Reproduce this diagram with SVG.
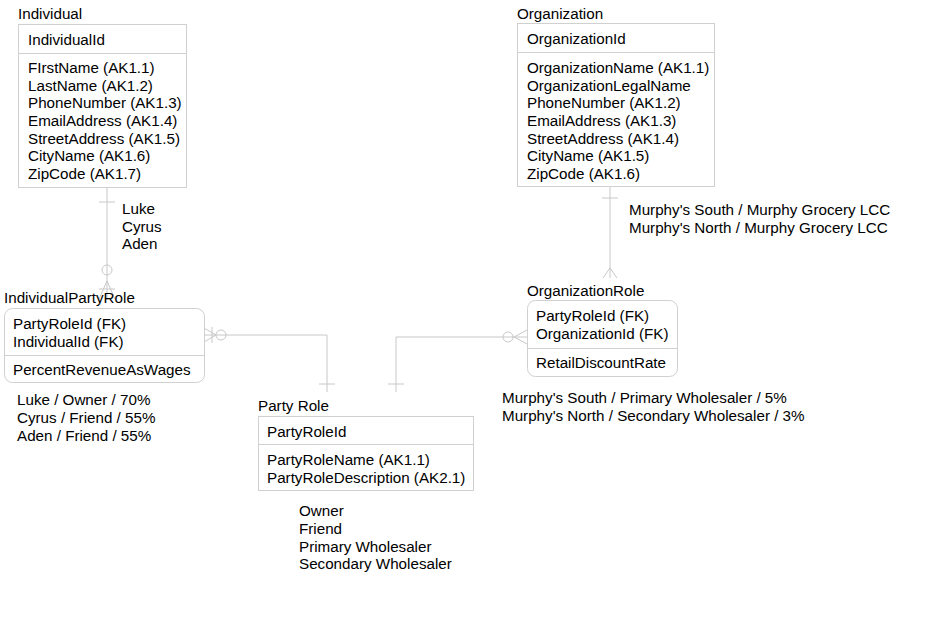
<svg xmlns="http://www.w3.org/2000/svg" width="925" height="620" viewBox="0 0 925 620">
<style>
text{font-family:"Liberation Sans",Arial,sans-serif;font-size:15.2px;fill:#000}
.box{fill:#fff;stroke:#d0d0d0;stroke-width:1}
.sep{stroke:#d0d0d0;stroke-width:1}
.ln{fill:none;stroke:#c8c8c8;stroke-width:1}
</style>
<rect width="925" height="620" fill="#fff"/>
<g id="connectors">
  <!-- Individual to IndividualPartyRole -->
  <path class="ln" d="M107,187 V300"/>
  <path class="ln" d="M99,202 H115"/>
  <circle class="ln" cx="107" cy="270" r="5"/>
  <path class="ln" d="M107,281 L99,299 M107,281 L115,299 M99,289 H115"/>
  <!-- IndividualPartyRole to Party Role -->
  <path class="ln" d="M204,335 H327 V392"/>
  <path class="ln" d="M319,384 H335"/>
  <circle class="ln" cx="221" cy="335" r="5"/>
  <path class="ln" d="M216,335 L204,328 M216,335 L204,342 M212,327 V343"/>
  <!-- Organization to OrganizationRole -->
  <path class="ln" d="M610,186 V278"/>
  <path class="ln" d="M602,198 H618"/>
  <path class="ln" d="M610,268 L603,278 M610,268 L617,278"/>
  <!-- OrganizationRole to Party Role -->
  <path class="ln" d="M527,337 H396 V392"/>
  <path class="ln" d="M388,384 H404"/>
  <circle class="ln" cx="508" cy="337" r="5"/>
  <path class="ln" d="M514,337 L527,330 M514,337 L527,344"/>
</g>
<g id="Individual">
  <text x="18" y="19">Individual</text>
  <rect class="box" x="18.5" y="24.5" width="168" height="163"/>
  <line class="sep" x1="18.5" y1="53.5" x2="186.5" y2="53.5"/>
  <text x="28" y="45">IndividualId</text>
  <text x="28" y="73">FIrstName (AK1.1)</text>
  <text x="28" y="91">LastName (AK1.2)</text>
  <text x="28" y="108">PhoneNumber (AK1.3)</text>
  <text x="28" y="126">EmailAddress (AK1.4)</text>
  <text x="28" y="144">StreetAddress (AK1.5)</text>
  <text x="28" y="161">CityName (AK1.6)</text>
  <text x="28" y="179">ZipCode (AK1.7)</text>
</g>
<g id="IndividualNotes">
  <text x="122" y="214">Luke</text>
  <text x="122" y="232">Cyrus</text>
  <text x="122" y="249">Aden</text>
</g>
<g id="IndividualPartyRole">
  <text x="4" y="303">IndividualPartyRole</text>
  <rect class="box" x="4.5" y="308.5" width="200" height="74" rx="8"/>
  <line class="sep" x1="4.5" y1="355.5" x2="204.5" y2="355.5"/>
  <text x="13" y="329">PartyRoleId (FK)</text>
  <text x="13" y="347">IndividualId (FK)</text>
  <text x="13" y="375">PercentRevenueAsWages</text>
</g>
<g id="IndividualPartyRoleNotes">
  <text x="17" y="405">Luke / Owner / 70%</text>
  <text x="17" y="423">Cyrus / Friend / 55%</text>
  <text x="17" y="441">Aden / Friend / 55%</text>
</g>
<g id="PartyRole">
  <text x="258" y="411">Party Role</text>
  <rect class="box" x="258.5" y="416.5" width="215" height="74"/>
  <line class="sep" x1="258.5" y1="444.5" x2="473.5" y2="444.5"/>
  <text x="267" y="437">PartyRoleId</text>
  <text x="267" y="465">PartyRoleName (AK1.1)</text>
  <text x="267" y="483">PartyRoleDescription (AK2.1)</text>
</g>
<g id="PartyRoleNotes">
  <text x="299" y="516">Owner</text>
  <text x="299" y="534">Friend</text>
  <text x="299" y="552">Primary Wholesaler</text>
  <text x="299" y="569">Secondary Wholesaler</text>
</g>
<g id="Organization">
  <text x="517" y="19">Organization</text>
  <rect class="box" x="517.5" y="23.5" width="197" height="163"/>
  <line class="sep" x1="517.5" y1="52.5" x2="714.5" y2="52.5"/>
  <text x="527" y="44">OrganizationId</text>
  <text x="527" y="73">OrganizationName (AK1.1)</text>
  <text x="527" y="91">OrganizationLegalName</text>
  <text x="527" y="108">PhoneNumber (AK1.2)</text>
  <text x="527" y="126">EmailAddress (AK1.3)</text>
  <text x="527" y="144">StreetAddress (AK1.4)</text>
  <text x="527" y="161">CityName (AK1.5)</text>
  <text x="527" y="179">ZipCode (AK1.6)</text>
</g>
<g id="OrganizationNotes">
  <text x="629" y="215">Murphy's South / Murphy Grocery LCC</text>
  <text x="629" y="233">Murphy's North / Murphy Grocery LCC</text>
</g>
<g id="OrganizationRole">
  <text x="527" y="296">OrganizationRole</text>
  <rect class="box" x="527.5" y="300.5" width="150" height="76" rx="8"/>
  <line class="sep" x1="527.5" y1="348.5" x2="677.5" y2="348.5"/>
  <text x="536" y="321">PartyRoleId (FK)</text>
  <text x="536" y="339">OrganizationId (FK)</text>
  <text x="536" y="368">RetailDiscountRate</text>
</g>
<g id="OrganizationRoleNotes">
  <text x="502" y="403">Murphy's South / Primary Wholesaler / 5%</text>
  <text x="502" y="421">Murphy's North / Secondary Wholesaler / 3%</text>
</g>
</svg>
